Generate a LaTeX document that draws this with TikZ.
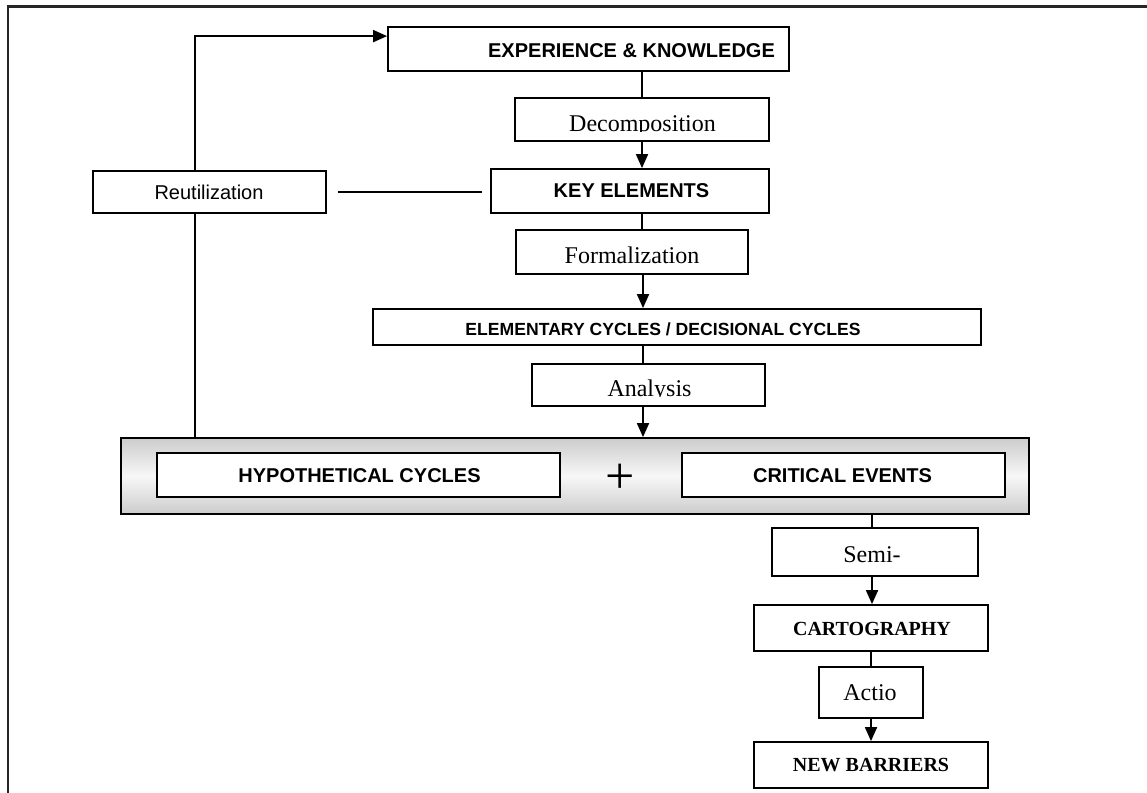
\documentclass[tikz,border=0pt]{standalone}
\usepackage{fontspec}
\setmainfont{Liberation Serif}
\setsansfont{Liberation Sans}
\usetikzlibrary{arrows.meta}

\begin{document}
\begin{tikzpicture}[x=1pt, y=-1pt, line width=1.8pt,
  bx/.style={draw, fill=white, inner sep=0pt},
  arr/.style={-{Triangle[length=14pt,width=12pt]}},
  hd/.style={font=\sffamily\bfseries\fontsize{20}{22}\selectfont, anchor=base, inner sep=0pt},
  hdsmall/.style={font=\sffamily\bfseries\fontsize{17.6}{20}\selectfont, anchor=base, inner sep=0pt},
  sans/.style={font=\sffamily\fontsize{20}{22}\selectfont, anchor=base, inner sep=0pt},
  rm/.style={font=\rmfamily\fontsize{24}{26}\selectfont, anchor=base, inner sep=0pt},
  rmbold/.style={font=\rmfamily\bfseries\fontsize{20}{22}\selectfont, anchor=base, inner sep=0pt},
  plus/.style={font=\rmfamily\fontsize{52}{52}\selectfont, anchor=center, inner sep=0pt}
]
\useasboundingbox (0,0) rectangle (1147,792);

% page frame
\draw[line width=2.2pt, black!85] (8,800) -- (8,6.5) -- (1160,6.5);

% main column of boxes
\node[bx, minimum width=401pt, minimum height=44pt] (ek)   at (588.5,49)  {};
\node[bx, minimum width=254pt, minimum height=43pt] (dec)  at (642,119.5) {};
\node[bx, minimum width=278pt, minimum height=44pt] (key)  at (630,191)   {};
\node[bx, minimum width=232pt, minimum height=44pt] (form) at (632,252)   {};
\node[bx, minimum width=608pt, minimum height=36pt] (elem) at (677,327)   {};
\node[bx, minimum width=233pt, minimum height=42pt] (anal) at (648.5,385) {};

% grouped result: hypothetical cycles + critical events
\node[draw, inner sep=0pt, minimum width=908pt, minimum height=76pt,
      top color=black!20, bottom color=black!20, middle color=black!3] (grey) at (575,476) {};
\node[bx, minimum width=403pt, minimum height=44pt] (hyp)  at (358.5,475) {};
\node[bx, minimum width=323pt, minimum height=44pt] (crit) at (843.5,475) {};

% lower branch
\node[bx, minimum width=206pt, minimum height=48pt] (semi) at (875,552)   {};
\node[bx, minimum width=234pt, minimum height=46pt] (cart) at (871,628)   {};
\node[bx, minimum width=104pt, minimum height=51pt] (act)  at (871,692.5) {};
\node[bx, minimum width=234pt, minimum height=46pt] (nb)   at (871,765)   {};

% texts
\node[hd] at (631.5,57) {EXPERIENCE \& KNOWLEDGE};
\path (dec.south east) ++(0,-10) coordinate (decclip);
\begin{scope}
  \clip (dec.north west) rectangle (decclip);
  \node[rm] at (642.5,131.5) {Decomposition};
\end{scope}
\node[hd] at (631.5,197) {KEY ELEMENTS};
\node[rm] at (632,263) {Formalization};
\node[hdsmall] at (663,335) {ELEMENTARY CYCLES / DECISIONAL CYCLES};
\path (anal.south east) ++(0,-10) coordinate (analclip);
\begin{scope}
  \clip (anal.north west) rectangle (analclip);
  \node[rm] at (649.5,396.5) {Analysis};
\end{scope}
\node[hd] at (359.5,482) {HYPOTHETICAL CYCLES};
\node[plus] (plussign) at (620.5,478.5) {+};
\node[hd] at (842.5,482) {CRITICAL EVENTS};
\node[rm] at (872,562) {Semi-};
\node[rmbold] at (872,635) {CARTOGRAPHY};
\node[rm] at (870,700) {Actio};
\node[rmbold] at (871,771) {NEW BARRIERS};

% connectors of the main column
\draw (ek.south -| 642,0) -- (dec.north -| 642,0);
\draw[arr] (dec.south -| 642,0) -- (key.north -| 642,0);
\draw (key.south -| 642,0) -- (form.north -| 642,0);
\draw[arr] (form.south -| 643,0) -- (elem.north -| 643,0);
\draw (elem.south -| 643,0) -- (anal.north -| 643,0);
\draw[arr] (anal.south -| 643,0) -- (grey.north -| 643,0);

% lower branch connectors
\draw (grey.south -| 872,0) -- (semi.north -| 872,0);
\draw[arr] (semi.south -| 872,0) -- (cart.north -| 872,0);
\draw (cart.south -| 871,0) -- (act.north -| 871,0);
\draw[arr] (act.south -| 871,0) -- (nb.north -| 871,0);

% reuse loop back to experience & knowledge
\coordinate (loopin) at ([yshift=-10pt]ek.north west);
\draw[arr] ([xshift=75pt]grey.north west) |- (loopin);
\node[bx, minimum width=233pt, minimum height=42pt] (reut) at (209.5,192) {};
\node[sans] at (209,199) {Reutilization};
\draw[shorten <=11pt, shorten >=8pt] (reut.east) -- (reut.east -| key.west);
\end{tikzpicture}
\end{document}
